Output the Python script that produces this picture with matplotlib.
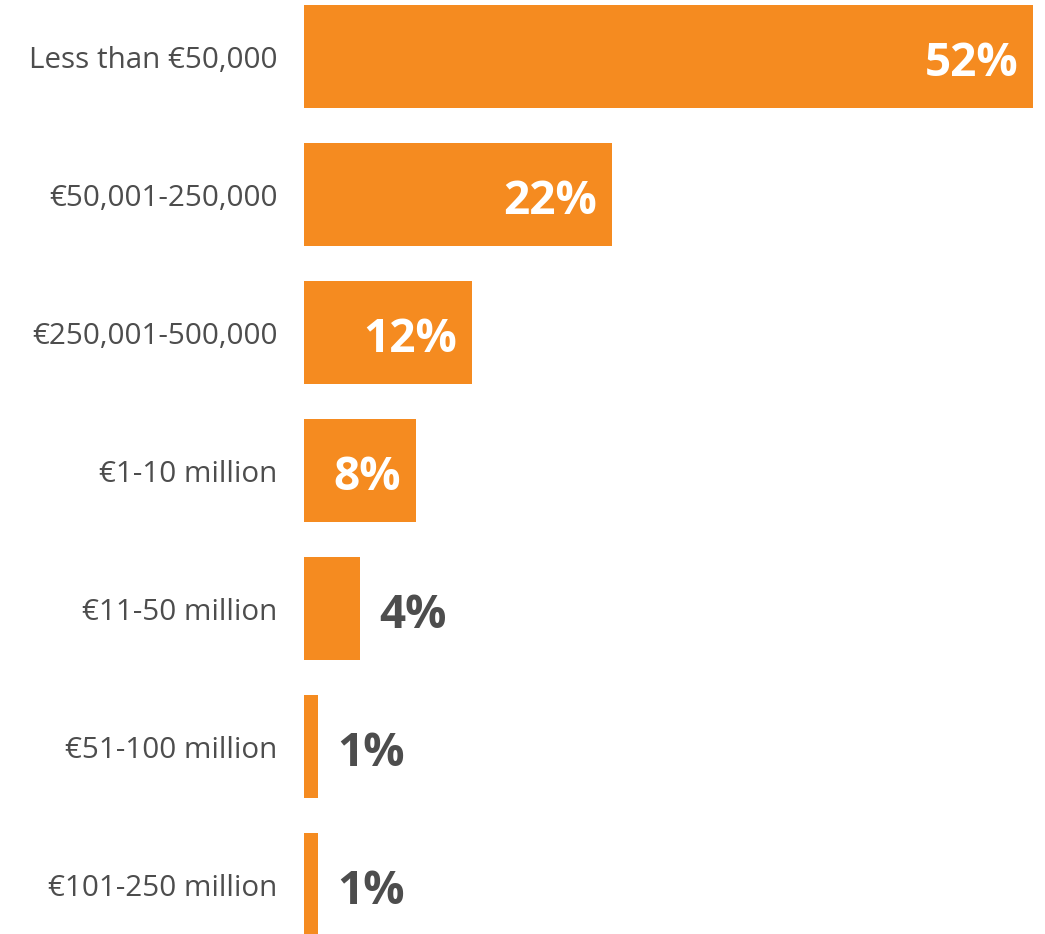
import matplotlib
matplotlib.use('Agg')
import matplotlib.pyplot as plt

# Dados
categorias = ['Less than €50,000', '€50,001-250,000', '€250,001-500,000',
              '€1-10 million', '€11-50 million', '€51-100 million',
              '€101-250 million']
valores = [52, 22, 12, 8, 4, 1, 1]
rotulos = ['52%', '22%', '12%', '8%', '4%', '1%', '1%']

laranja = '#F58B20'
cinza = '#4D4D4D'

plt.rcParams['font.family'] = ['Open Sans', 'DejaVu Sans']

fig = plt.figure(figsize=(10.45, 9.34), dpi=100)
ax = fig.add_axes([304 / 1045, 0, 741 / 1045, 1])

y = list(range(len(categorias)))
bars = ax.barh(y, valores, height=103 / 138, color=laranja)

ax.set_xlim(0, 52 * 741 / 729)
ax.set_ylim(6 + 49.5 / 138, -56.5 / 138)

ax.set_yticks(y)
ax.set_yticklabels(categorias, fontsize=21.3, color=cinza)
ax.tick_params(axis='y', length=0, pad=19)
ax.set_xticks([])
for s in ax.spines.values():
    s.set_visible(False)

# Valores nas barras
for bar, v, txt in zip(bars, valores, rotulos):
    cy = bar.get_y() + bar.get_height() / 2
    if v >= 8:
        ax.annotate(txt, xy=(v, cy), xytext=(-15, -7), textcoords='offset pixels',
                    ha='right', va='center', fontsize=33, fontweight='bold',
                    color='white')
    else:
        ax.annotate(txt, xy=(v, cy), xytext=(19, -7), textcoords='offset pixels',
                    ha='left', va='center', fontsize=33, fontweight='bold',
                    color=cinza)

plt.savefig('out.png', dpi=100)
